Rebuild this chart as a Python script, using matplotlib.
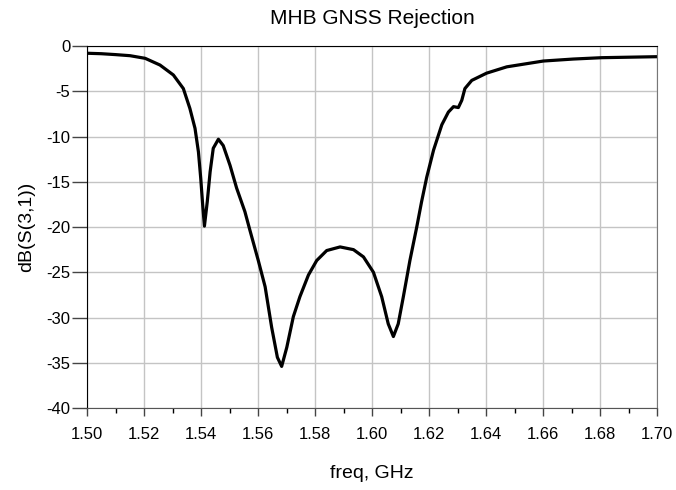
import matplotlib.pyplot as plt
from matplotlib.ticker import MultipleLocator

plt.rcParams['font.family'] = ['Liberation Sans', 'DejaVu Sans']

# values
freq = [1.5000, 1.5050, 1.5100, 1.5151, 1.5204, 1.5256, 1.5303, 1.5338, 1.5361, 1.5379,
        1.5391, 1.5399, 1.5406, 1.5412, 1.5422, 1.5432, 1.5443, 1.5461, 1.5478, 1.5502,
        1.5525, 1.5554, 1.5572, 1.5601, 1.5625, 1.5648, 1.5668, 1.5683, 1.5701, 1.5724,
        1.5747, 1.5777, 1.5806, 1.5841, 1.5888, 1.5935, 1.5970, 1.6005, 1.6034, 1.6057,
        1.6075, 1.6092, 1.6110, 1.6133, 1.6157, 1.6174, 1.6192, 1.6216, 1.6245, 1.6268,
        1.6286, 1.6303, 1.6315, 1.6326, 1.6350, 1.6402, 1.6473, 1.6601, 1.6706, 1.6806,
        1.7000]
s31_db = [-0.80, -0.85, -0.95, -1.07, -1.36, -2.10, -3.20, -4.70, -6.90, -9.10,
          -11.7, -14.6, -17.6, -19.9, -17.2, -13.9, -11.3, -10.3, -11.0, -13.2,
          -15.7, -18.3, -20.4, -23.7, -26.6, -31.1, -34.4, -35.4, -33.3, -29.9,
          -27.7, -25.3, -23.7, -22.6, -22.2, -22.5, -23.3, -25.0, -27.7, -30.7,
          -32.1, -30.7, -27.7, -23.7, -20.0, -17.2, -14.5, -11.5, -8.70, -7.30,
          -6.70, -6.80, -6.00, -4.70, -3.80, -3.00, -2.30, -1.66, -1.44, -1.29,
          -1.18]
x_ticks = [1.50, 1.52, 1.54, 1.56, 1.58, 1.60, 1.62, 1.64, 1.66, 1.68, 1.70]
y_ticks = [0, -5, -10, -15, -20, -25, -30, -35, -40]

fig = plt.figure(figsize=(6.76, 4.90), dpi=100)
ax = fig.add_axes([0.1287, 0.1673, 0.8432, 0.7388])

ax.plot(freq, s31_db, color='black', linewidth=2.3,
        solid_joinstyle='round', solid_capstyle='butt')

ax.set_xlim(1.50, 1.70)
ax.set_ylim(-40, 0)
ax.set_xticks(x_ticks)
ax.set_xticklabels(['%.2f' % v for v in x_ticks])
ax.set_yticks(y_ticks)
ax.set_yticklabels([str(v) for v in y_ticks])
ax.xaxis.set_minor_locator(MultipleLocator(0.01))
ax.grid(True, which='major', color='#c4c4c4', linewidth=1.0)
ax.set_axisbelow(True)

ax.tick_params(axis='x', which='major', direction='out', length=6, width=1, labelsize=12, pad=8)
ax.tick_params(axis='x', which='minor', direction='out', length=3.5, width=1)
ax.tick_params(axis='y', which='major', direction='out', length=11, width=1, labelsize=12, pad=1)
ax.tick_params(colors='#444444', labelcolor='black')

ax.spines['top'].set_color('black')
ax.spines['left'].set_color('black')
ax.spines['bottom'].set_color('#555555')
ax.spines['right'].set_color('#777777')

ax.set_title('MHB GNSS Rejection', fontsize=15, pad=16)
ax.set_xlabel('freq, GHz', fontsize=14, labelpad=16)
ax.set_ylabel('dB(S(3,1))', fontsize=14, labelpad=8)

plt.savefig('out.png', dpi=100)
